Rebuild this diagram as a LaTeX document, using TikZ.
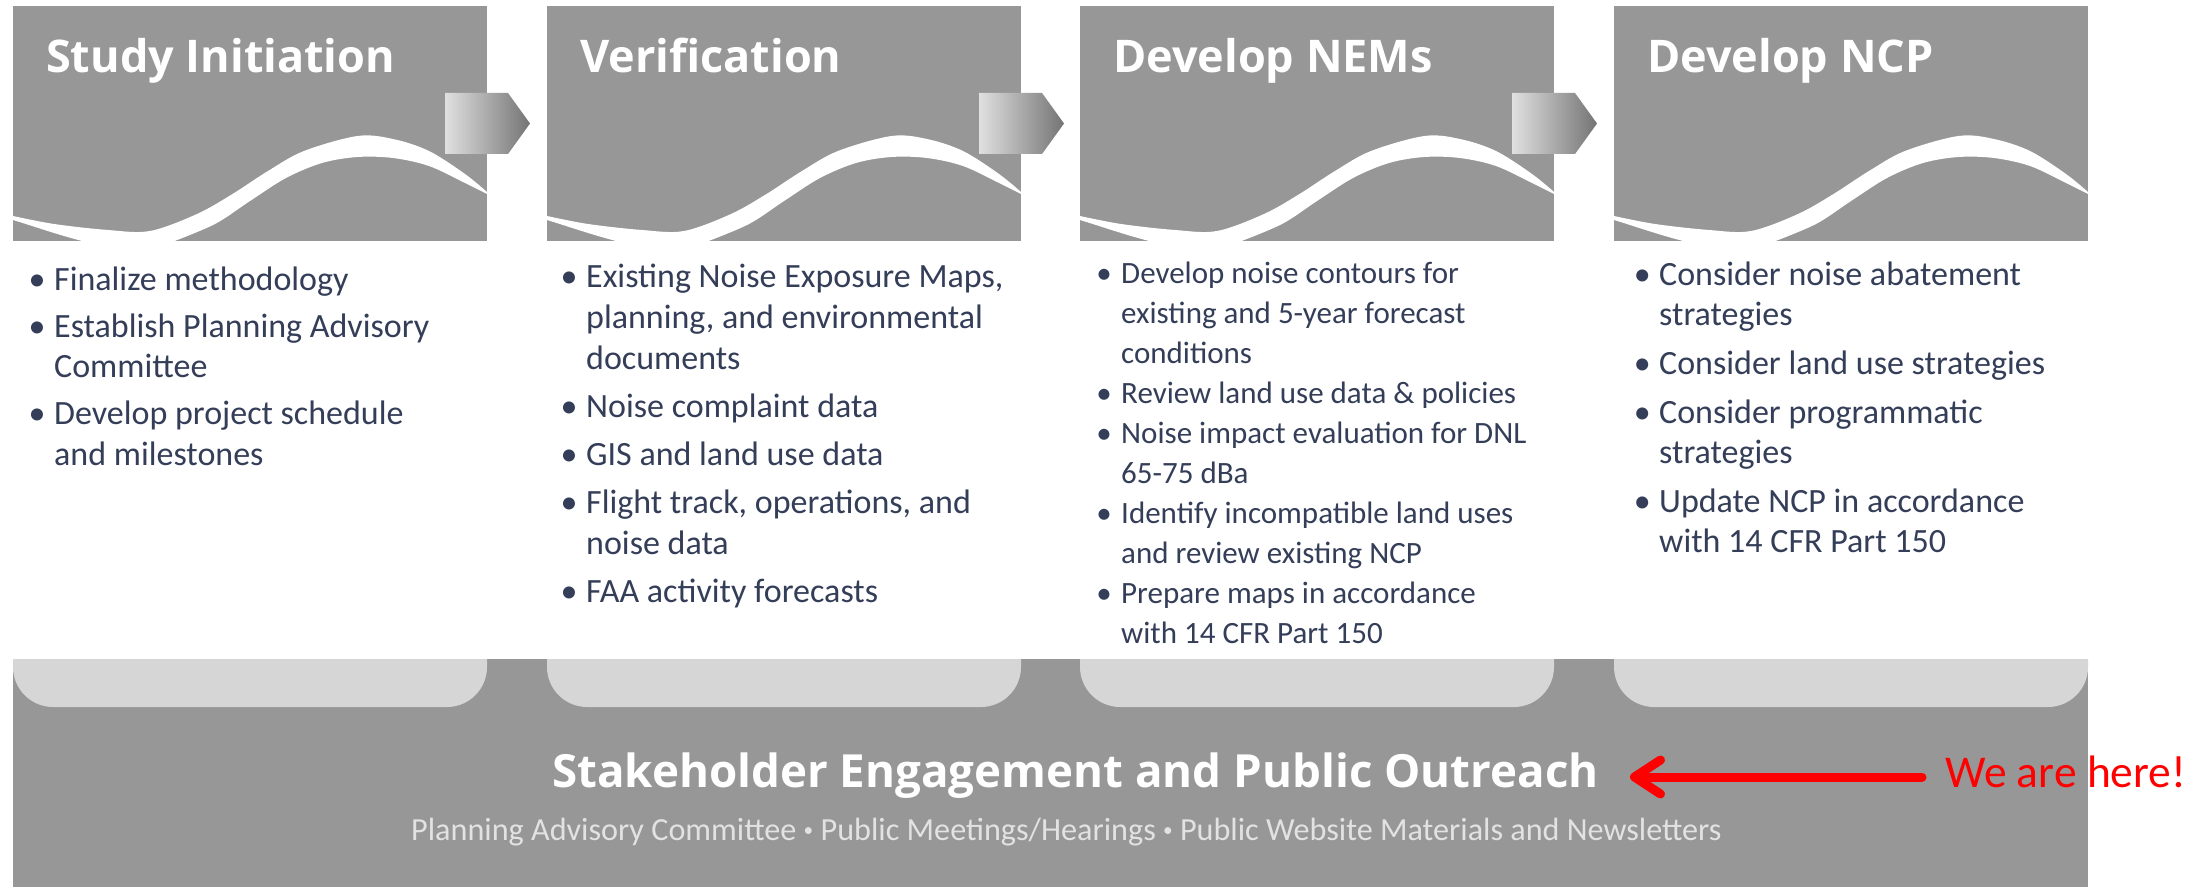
\documentclass[tikz,border=0pt]{standalone}
\usepackage{fontspec}
\usepackage{graphicx}
\setmainfont{Carlito}
\newfontfamily\hdfont{Open Sans}
\usetikzlibrary{arrows.meta}
\definecolor{boxgray}{RGB}{151,151,151}
\definecolor{tabgray}{RGB}{214,214,214}
\definecolor{bultext}{RGB}{52,62,88}
\definecolor{subtext}{RGB}{226,226,226}
\definecolor{chevlight}{RGB}{224,224,224}
\definecolor{chevdark}{RGB}{116,116,116}
\definecolor{herered}{RGB}{255,0,0}
\newcommand{\bulmark}{\llap{\makebox[34pt]{•}}}
\newcommand{\firststrut}{\rule{0pt}{30pt}}
\newcommand{\subdot}{\raisebox{0.12em}{\scalebox{0.6}{•}}}
\begin{document}
\begin{tikzpicture}[x=1pt,y=-1pt,
  hdrbox/.style={fill=boxgray, draw=none, inner sep=0pt, outer sep=0pt, minimum width=474pt, minimum height=235pt, anchor=north west},
  hdrtext/.style={anchor=base west, inner sep=0pt, text=white, font=\hdfont\bfseries\fontsize{45}{50}\selectfont},
  bullist/.style={anchor=north west, inner sep=0pt, align=left, text=bultext},
  chevron/.style={left color=chevlight, right color=chevdark, draw=none},
  tabshape/.style={fill=tabgray, draw=none},
  wave/.style={fill=white, draw=none},
  hereline/.style={draw=herered, line width=9pt, line cap=round, -{Straight Barb[length=26pt,width=34pt,round]}},
]
\useasboundingbox (0,0) rectangle (2208,890);
\fill[white] (0,0) rectangle (2208,890);

% bottom band
\fill[boxgray] (13,659) rectangle (2088,887);

% header boxes, waves, tabs
\foreach \L/\n in {13/1,547/2,1080/3,1614/4}{
  \node[hdrbox] (b\n) at (\L,6) {};
  \begin{scope}[shift={(\L,6)}]
    \fill[wave] plot[smooth, tension=0.55] coordinates {(0,210) (41,218) (95,224) (137,225) (184,208) (219.5,188) (255,165) (291,145) (344.5,130) (380,133) (416,145) (452,168) (474,186)}
      -- plot[smooth, tension=0.55] coordinates {(474,188) (452,177) (416,160) (380,152) (344.5,151) (309,157) (273,172) (237,195) (202,218) (159,236)}
      -- (73,236) .. controls (45,229) and (20,220) .. (0,214) -- cycle;
  \end{scope}
  \fill[tabshape] (\L,659) -- (\L,667) .. controls (\L,689) and (\L+18,707) .. (\L+40,707)
     -- (\L+434,707) .. controls (\L+456,707) and (\L+474,689) .. (\L+474,667) -- (\L+474,659) -- cycle;
}

% chevrons between stages
\foreach \R in {487,1021,1554}{
  \shade[chevron] (\R-42,93) -- (\R+21,93) -- (\R+43,123.5) -- (\R+21,154) -- (\R-42,154) -- cycle;
}

% headers
\node[hdrtext] (h1) at (46,73) {Study Initiation};
\node[hdrtext] (h2) at (580,73) {Verification};
\node[hdrtext] (h3) at (1113,73) {Develop NEMs};
\node[hdrtext] (h4) at (1647,73) {Develop NCP};

% bullet lists
\node[bullist, font=\fontsize{34}{40.5}\selectfont] (l1) at (54,260) {\firststrut\bulmark Finalize methodology\\[6.5pt]
\bulmark Establish Planning Advisory\\
Committee\\[6.5pt]
\bulmark Develop project schedule\\
and milestones};

\node[bullist, font=\fontsize{34}{41}\selectfont] (l2) at (586,257) {\firststrut\bulmark Existing Noise Exposure Maps,\\
planning, and environmental\\
documents\\[7pt]
\bulmark Noise complaint data\\[7pt]
\bulmark GIS and land use data\\[7pt]
\bulmark Flight track, operations, and\\
noise data\\[7pt]
\bulmark FAA activity forecasts};

\node[bullist, font=\fontsize{31}{40}\selectfont] (l3) at (1121,253) {\firststrut\bulmark Develop noise contours for\\
existing and 5-year forecast\\
conditions\\
\bulmark Review land use data \& policies\\
\bulmark Noise impact evaluation for DNL\\
65-75 dBa\\
\bulmark Identify incompatible land uses\\
and review existing NCP\\
\bulmark Prepare maps in accordance\\
with 14 CFR Part 150};

\node[bullist, font=\fontsize{34}{40}\selectfont] (l4) at (1659,255) {\firststrut\bulmark Consider noise abatement\\
strategies\\[9pt]
\bulmark Consider land use strategies\\[9pt]
\bulmark Consider programmatic\\
strategies\\[9pt]
\bulmark Update NCP in accordance\\
with 14 CFR Part 150};

% bottom band texts
\node[anchor=base west, inner sep=0pt, text=white] (title) at (552,787)
  {\resizebox{1046pt}{!}{\hdfont\bfseries Stakeholder Engagement and Public Outreach}};
\node[anchor=base west, inner sep=0pt, text=subtext] (sub) at (411,840)
  {\resizebox{1310pt}{!}{Planning Advisory Committee \subdot{} Public Meetings/Hearings \subdot{} Public Website Materials and Newsletters}};

% we are here
\node[anchor=base west, inner sep=0pt, text=herered, font=\fontsize{45.5}{50}\selectfont] (here) at (1945,787) {We are here!};
\coordinate (atail) at (1922,777);
\coordinate (atip) at (1630,777);
\draw[hereline] (atail) -- (atip);
\end{tikzpicture}
\end{document}
